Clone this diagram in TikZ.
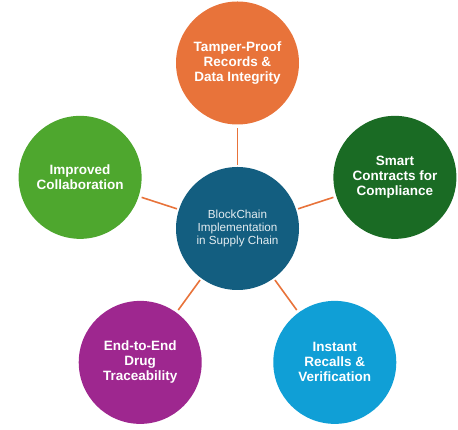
\documentclass[tikz,border=0pt]{standalone}
\usepackage{fontspec}
\setmainfont{Liberation Sans}
\usetikzlibrary{positioning, calc}
\definecolor{hubblue}{HTML}{135E80}
\definecolor{linkorange}{HTML}{E8733A}
\definecolor{tamperorange}{HTML}{E8733A}
\definecolor{smartgreen}{HTML}{1A6B24}
\definecolor{recallblue}{HTML}{109FD6}
\definecolor{tracepurple}{HTML}{9E278F}
\definecolor{collabgreen}{HTML}{4EA72E}

\begin{document}
\begin{tikzpicture}[x=1pt, y=1pt,
  hub/.style={circle, fill=hubblue, minimum size=123pt, inner sep=0pt, align=center, text=white!88!hubblue,
    font=\fontsize{11.7}{13}\selectfont},
  benefit/.style={circle, fill=#1, minimum size=123pt, inner sep=0pt, align=center, text=white,
    font=\fontsize{13.5}{15}\selectfont\bfseries},
  link/.style={draw=linkorange, line width=1.6pt, shorten <=2pt, shorten >=3pt}]
  \useasboundingbox (0,0) rectangle (458,430);
  \node[hub] (bc) at (237.5,201.5) {BlockChain\\ Implementation\\ in Supply Chain};
  \node[benefit=tamperorange] (tp) at ($(bc)+(90:165.5)$) {Tamper-Proof\\ Records \&\\ Data Integrity};
  \node[benefit=smartgreen]   (sc) at ($(bc)+(18:165.5)$) {Smart\\ Contracts for\\ Compliance};
  \node[benefit=recallblue]   (ir) at ($(bc)+(-54:165.5)$) {Instant\\ Recalls \&\\ Verification};
  \node[benefit=tracepurple]  (ed) at ($(bc)+(-126:165.5)$) {End-to-End\\ Drug\\ Traceability};
  \node[benefit=collabgreen]  (ic) at ($(bc)+(162:165.5)$) {Improved\\ Collaboration};
  \foreach \n in {tp, sc, ir, ed, ic}
    \draw[link] (bc) -- (\n);
\end{tikzpicture}
\end{document}
